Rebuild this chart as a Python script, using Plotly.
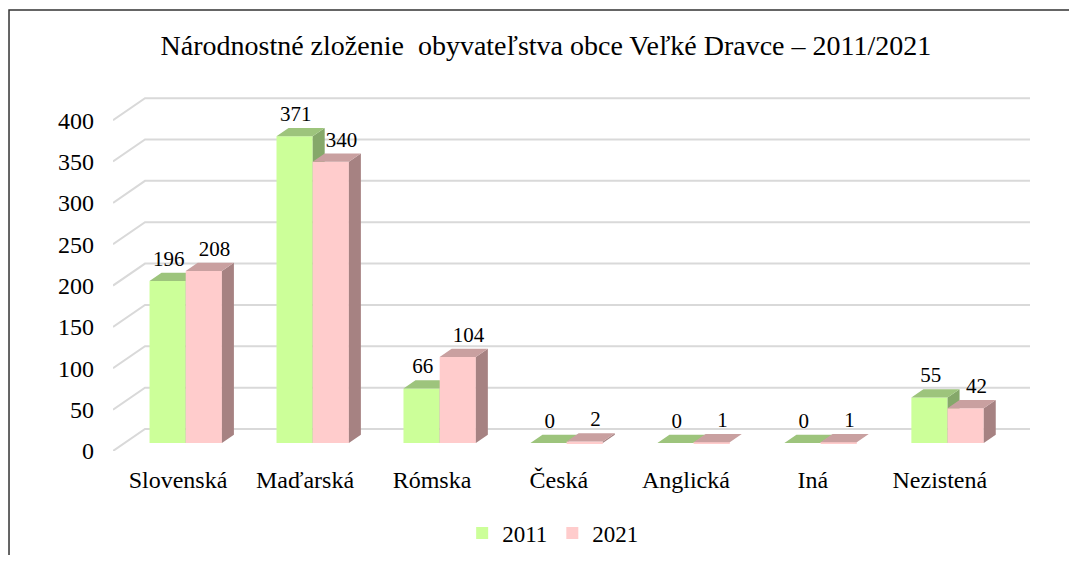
import plotly.graph_objects as go

categories = ["Slovenská", "Maďarská", "Rómska", "Česká", "Anglická", "Iná", "Nezistená"]
years = ["2011", "2021"]
values_2011 = [196, 371, 66, 0, 0, 0, 55]
values_2021 = [208, 340, 104, 2, 1, 1, 42]
y_ticks = [0, 50, 100, 150, 200, 250, 300, 350, 400]

# fake 3D: oblique offset for full depth of the floor, in data units
DEPTH_X = 0.252
DEPTH_Y = 26.6
BAR_FRONT = 0.36   # depth of bar front face (0..1)
BAR_BACK = 0.735   # depth of bar back face
BAR_W = 0.285
BAR_SHIFT = -0.03

X_MIN, X_MAX = -0.512, 6.71
Y_MAX = 428

FONT = "Liberation Serif"

series = [
    dict(name=years[0], values=values_2011, front="#CCFF99", top="#9DC47C", side="#85A86A", shift=-1),
    dict(name=years[1], values=values_2021, front="#FFCCCC", top="#C9A0A0", side="#A68282", shift=0),
]

fig = go.Figure()

# back wall gridlines + left wall diagonals
gx, gy = [], []
for t in y_ticks:
    gx += [X_MIN, X_MIN + DEPTH_X, X_MAX, None]
    gy += [t, t + DEPTH_Y, t + DEPTH_Y, None]
fig.add_trace(go.Scatter(x=gx, y=gy, mode="lines", line=dict(color="#D9D9D9", width=2),
                         hoverinfo="skip", showlegend=False, zorder=0))

ddx = (BAR_BACK - BAR_FRONT) * DEPTH_X
ddy = (BAR_BACK - BAR_FRONT) * DEPTH_Y
base = BAR_FRONT * DEPTH_Y

for k, s in enumerate(series):
    xs = [i + BAR_FRONT * DEPTH_X + BAR_SHIFT + (s["shift"] + 0.5) * BAR_W
          for i in range(len(categories))]
    fig.add_trace(go.Bar(
        x=xs, y=s["values"], base=base, width=BAR_W, name=s["name"],
        marker=dict(color=s["front"], line=dict(width=0)),
        zorder=1 + 2 * k,
    ))
    px_top, py_top, px_side, py_side = [], [], [], []
    lx, ly = [], []
    for xc, v in zip(xs, s["values"]):
        xl, xr = xc - BAR_W / 2, xc + BAR_W / 2
        top = base + v
        px_top += [xl, xr, xr + ddx, xl + ddx, xl, None]
        py_top += [top, top, top + ddy, top + ddy, top, None]
        px_side += [xr, xr + ddx, xr + ddx, xr, xr, None]
        py_side += [base, base + ddy, top + ddy, top, base, None]
        lx.append(xc + ddx * (0.1 if k == 0 else 0.9))
        ly.append(top + ddy + 2)
    fig.add_trace(go.Scatter(x=px_side, y=py_side, mode="lines", fill="toself",
                             fillcolor=s["side"], line=dict(width=0), hoverinfo="skip",
                             showlegend=False, zorder=2 + 2 * k))
    fig.add_trace(go.Scatter(x=px_top, y=py_top, mode="lines", fill="toself",
                             fillcolor=s["top"], line=dict(width=0), hoverinfo="skip",
                             showlegend=False, zorder=2 + 2 * k))
    fig.add_trace(go.Scatter(x=lx, y=ly, mode="text", text=[str(v) for v in s["values"]],
                             textposition="top center", textfont=dict(family=FONT, size=21, color="black"),
                             hoverinfo="skip", showlegend=False, cliponaxis=False, zorder=6))

fig.update_layout(
    width=1061, height=547,
    paper_bgcolor="white", plot_bgcolor="white",
    margin=dict(l=105, r=39, t=89, b=104, autoexpand=False),
    title=dict(text="Národnostné zloženie  obyvateľstva obce Veľké Dravce – 2011/2021",
               x=0.507, xanchor="center", y=0.932, yanchor="middle",
               font=dict(family=FONT, size=28, color="black")),
    font=dict(family=FONT, size=24, color="black"),
    barmode="overlay",
    legend=dict(orientation="h", x=0.48, xanchor="center", yref="container", y=0.04, yanchor="middle",
                font=dict(family=FONT, size=23), itemwidth=30, traceorder="normal"),
    xaxis=dict(range=[X_MIN, X_MAX], tickvals=list(range(len(categories))), ticktext=categories,
               showgrid=False, zeroline=False, showline=False, ticks="", ticklabelstandoff=12,
               tickfont=dict(family=FONT, size=24), fixedrange=True, automargin=False),
    yaxis=dict(range=[0, Y_MAX], tickvals=y_ticks, showgrid=False, zeroline=False,
               showline=False, ticks="", ticklabelstandoff=18,
               tickfont=dict(family=FONT, size=24), fixedrange=True, automargin=False),
    shapes=[dict(type="rect", xref="paper", yref="paper", x0=-0.1134, x1=1.06, y0=-0.34, y1=1.2458,
                 line=dict(color="#333333", width=1.5), fillcolor="rgba(0,0,0,0)", layer="below")],
    showlegend=True,
)

fig.write_html("out.html")
